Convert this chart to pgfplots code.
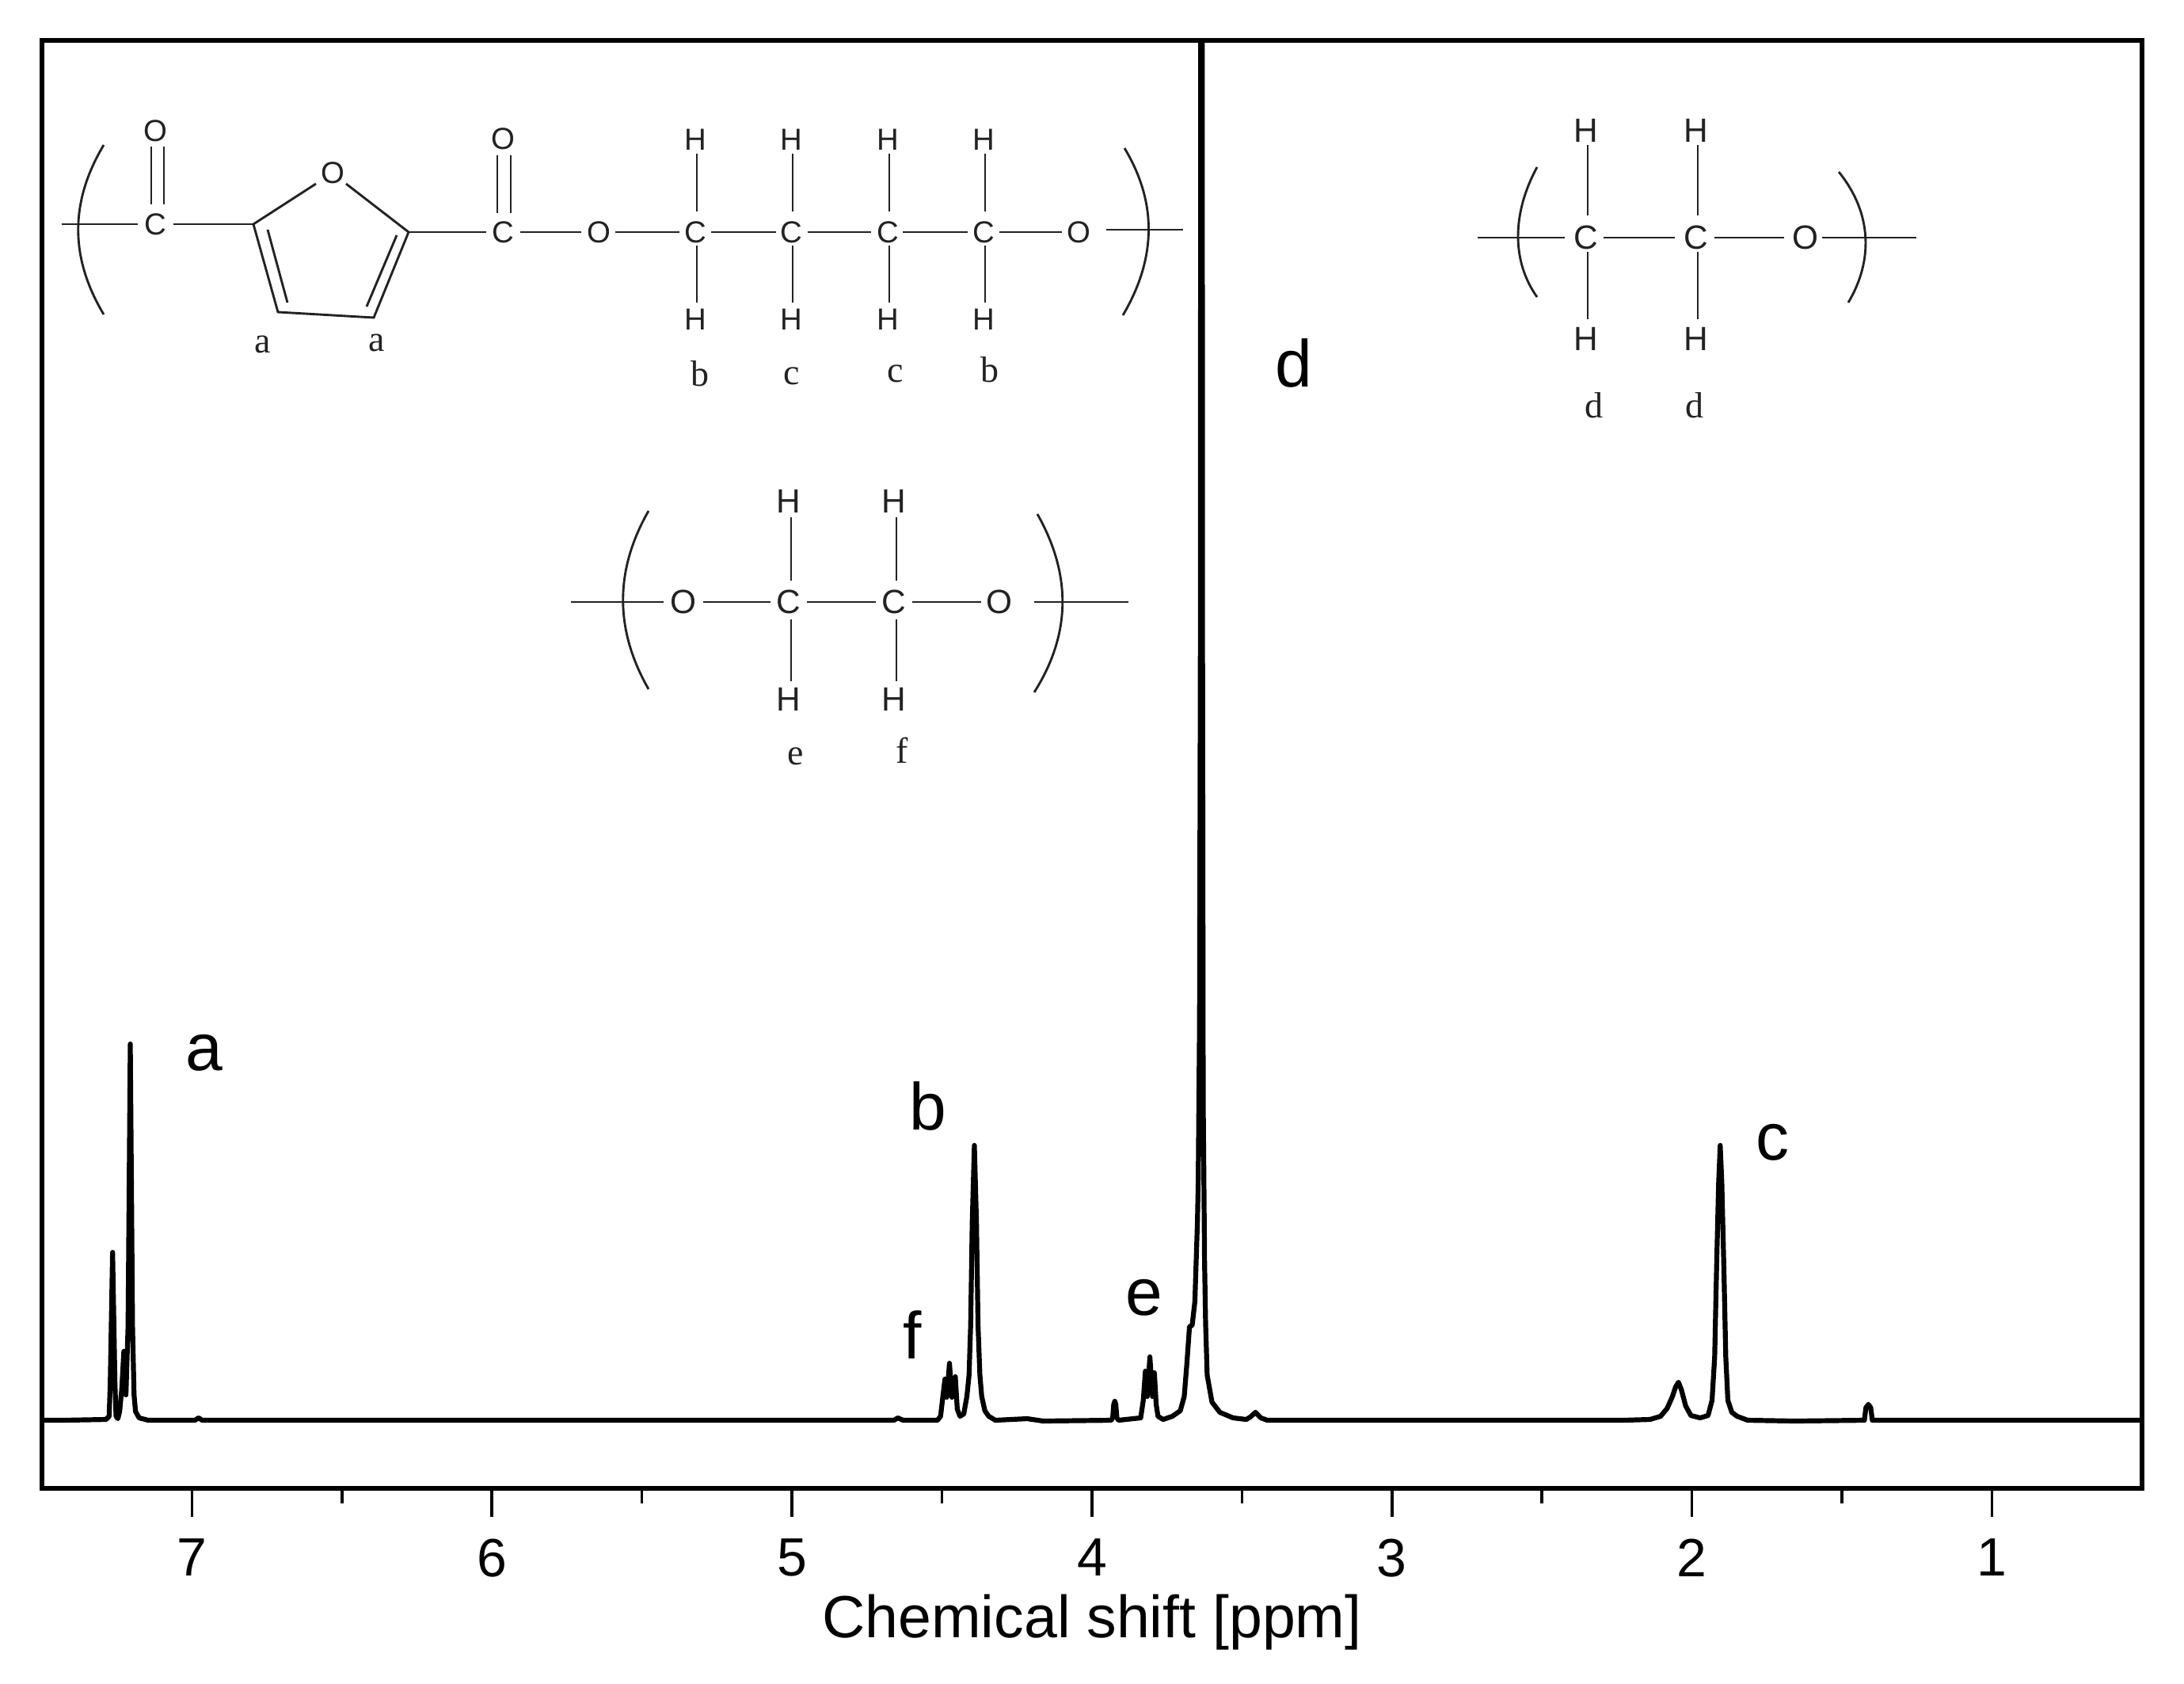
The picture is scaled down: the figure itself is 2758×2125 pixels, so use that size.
\documentclass[border=0pt]{standalone}
\usepackage{fontspec}
\setmainfont{Liberation Sans}
\newfontfamily\tm{Liberation Serif}
\usepackage{pgfplots}
\pgfplotsset{compat=1.18}
\newcommand{\fs}[1]{\fontsize{#1}{#1}\selectfont}
\definecolor{ink}{HTML}{222222}
\begin{document}
\begin{tikzpicture}[
  bond/.style={ink, line width=0.72pt},
  atom/.style={inner sep=0pt, text=ink, font=\fs{9.6}},
  atomb/.style={inner sep=0pt, text=ink, font=\fs{10.6}},
  lab/.style={inner sep=0pt, anchor=base, text=ink, font=\tm\fs{11.5}},
  peak/.style={inner sep=0pt, anchor=base, text=black, font=\fs{21}},
]
% one unit of the pixel scope = one pixel of the reference
\begin{scope}[x=0.25pt, y=-0.25pt, shift={(-13.25pt,469.75pt)}]
  \path[use as bounding box] (0,0) rectangle (2758,2125);
\end{scope}
\begin{axis}[
    scale only axis,
    width=663pt, height=457pt,
    xmin=0.5, xmax=7.5, ymin=-86, ymax=1742,
    x dir=reverse,
    xtick={1,2,3,4,5,6,7},
    minor x tick num=1,
    ytick=\empty,
    tick pos=bottom,
    xtick align=outside,
    major tick length=9pt,
    minor tick length=4.75pt,
    tick style={black, line width=0.9pt},
    axis line style={line width=1.35pt},
    xticklabel style={font=\fs{17}, yshift=-3.5pt},
    /pgf/number format/assume math mode=true,
    xlabel={Chemical shift [ppm]},
    xlabel style={font=\fs{18.8}, at={(axis description cs:0.5,0)}, anchor=base, yshift=-47pt},
]
\addplot[black, line width=1.55pt, line join=round] coordinates {
 (7.5,0) (7.427,0) (7.2865,1) (7.276,5) (7.2724,46) (7.2645,212) (7.2566,46) (7.253,5)
 (7.247,2) (7.241,11) (7.234,39) (7.227,87) (7.220,32) (7.213,118) (7.2055,475)
 (7.198,118) (7.193,32) (7.188,11) (7.176,3) (7.146,0) (6.99,0) (6.978,3) (6.966,0)
 (4.66,0) (4.647,3) (4.630,0) (4.515,0) (4.5047,5) (4.497,30) (4.49,52) (4.484,29)
 (4.475,72) (4.467,29) (4.4555,55) (4.449,14) (4.44,5) (4.4273,8) (4.417,30)
 (4.4097,57) (4.4044,120) (4.3991,250) (4.392,347) (4.385,250) (4.3798,120)
 (4.3736,57) (4.3675,30) (4.357,12) (4.344,5) (4.322,0) (4.216,2) (4.163,-1)
 (3.936,0) (3.931,3) (3.9275,20) (3.924,24) (3.9205,20) (3.917,3) (3.9116,0)
 (3.8377,3) (3.829,25) (3.822,62) (3.8157,30) (3.807,80) (3.7981,30) (3.792,60)
 (3.786,20) (3.78,5) (3.7629,1) (3.732,5) (3.7057,12) (3.6925,30) (3.684,70)
 (3.675,118) (3.666,120) (3.657,150) (3.6485,250) (3.6459,300) (3.6415,500)
 (3.6385,1000) (3.6375,1900) (3.6325,1900) (3.6315,1000) (3.6291,400) (3.6247,200) (3.6213,123)
 (3.616,57) (3.6001,23) (3.5737,10) (3.5297,3) (3.4857,1) (3.4725,4) (3.4549,10)
 (3.4373,3) (3.4153,0) (2.228,0) (2.14,1) (2.1048,5) (2.0828,15) (2.0652,30)
 (2.0546,42) (2.045,48) (2.035,38) (2.021,18) (2.0036,6) (1.9728,3) (1.9464,6)
 (1.9332,25) (1.9244,80) (1.9182,190) (1.9112,300) (1.9059,347) (1.9006,300)
 (1.8936,190) (1.8874,80) (1.8804,25) (1.8672,10) (1.8496,5) (1.8144,0) (1.656,-1)
 (1.4254,0) (1.4202,16) (1.4122,20) (1.4043,16) (1.399,0) (1.2,0) (0.5,0)
};
\end{axis}
\begin{scope}[x=0.25pt, y=-0.25pt, shift={(-13.25pt,469.75pt)}]
  % peak letters
  \node[peak] at (258,1351) {a};
  \node[peak] at (1172,1426) {b};
  \node[peak] at (2238,1464) {c};
  \node[peak] at (1634,488) {d};
  \node[peak] at (1445,1660) {e};
  \node[peak] at (1152,1715) {f};
  % PBF unit, upper left
  \draw[bond] (131,183) .. controls (88,255) and (88,325) .. (131,397);
  \draw[bond] (1420,187) .. controls (1461,255) and (1461,325) .. (1418,398);
  \draw[bond] (78,283) -- (174,283);
  \draw[bond] (219,283) -- (320,283);
  \draw[bond] (191,185) -- (191,258);
  \draw[bond] (207,185) -- (207,258);
  \draw[bond] (399,232) -- (320,283) -- (351,394) -- (472,401) -- (516,293) -- (437,232);
  \draw[bond] (338,290) -- (363,382);
  \draw[bond] (501,297) -- (463,387);
  \draw[bond] (516,293) -- (614,293);
  \draw[bond] (628,196) -- (628,269);
  \draw[bond] (645,196) -- (645,269);
  \draw[bond] (657,293) -- (734,293);
  \draw[bond] (777,293) -- (858,293);
  \draw[bond] (898,293) -- (980,293);
  \draw[bond] (1020,293) -- (1100,293);
  \draw[bond] (1140,293) -- (1222,293);
  \draw[bond] (1262,293) -- (1341,293);
  \draw[bond] (1397,290) -- (1494,290);
  \foreach \x in {880,1001,1123,1244} {
    \draw[bond] (\x,194) -- (\x,267);
    \draw[bond] (\x,310) -- (\x,382);
    \node[atom] at (\x-2,176) {H};
    \node[atom] at (\x-2,403) {H};
    \node[atom] at (\x-2,293) {C};
  }
  \node[atom] at (196,283) {C};
  \node[atom] at (196,165) {O};
  \node[atom] at (420,218) {O};
  \node[atom] at (635,293) {C};
  \node[atom] at (635,175) {O};
  \node[atom] at (756,293) {O};
  \node[atom] at (1362,293) {O};
  \node[lab] at (332,445) {a};
  \node[lab] at (476,443) {a};
  \node[lab] at (884,487) {b};
  \node[lab] at (1000,485) {c};
  \node[lab] at (1131,482) {c};
  \node[lab] at (1250,482) {b};
  % PEG end, middle
  \draw[bond] (819,645) .. controls (776,720) and (776,795) .. (819,870);
  \draw[bond] (1310,649) .. controls (1353,725) and (1353,800) .. (1306,874);
  \draw[bond] (721,760) -- (838,760);
  \draw[bond] (888,760) -- (973,760);
  \draw[bond] (1019,760) -- (1106,760);
  \draw[bond] (1152,760) -- (1239,760);
  \draw[bond] (1306,760) -- (1425,760);
  \foreach \x in {999,1132} {
    \draw[bond] (\x,653) -- (\x,733);
    \draw[bond] (\x,782) -- (\x,860);
    \node[atomb] at (\x-3,633) {H};
    \node[atomb] at (\x-3,883) {H};
    \node[atomb] at (\x-3,760) {C};
  }
  \node[atomb] at (863,760) {O};
  \node[atomb] at (1262,760) {O};
  \node[lab] at (1005,965) {e};
  \node[lab] at (1139,963) {f};
  % PEG repeat unit, upper right
  \draw[bond] (1941,211) .. controls (1909,270) and (1909,330) .. (1941,375);
  \draw[bond] (2322,217) .. controls (2365,270) and (2365,330) .. (2334,382);
  \draw[bond] (1866,300) -- (1976,300);
  \draw[bond] (2025,300) -- (2115,300);
  \draw[bond] (2165,300) -- (2253,300);
  \draw[bond] (2301,300) -- (2420,300);
  \foreach \x in {2005,2144} {
    \draw[bond] (\x,183) -- (\x,272);
    \draw[bond] (\x,318) -- (\x,403);
    \node[atomb] at (\x-2,165) {H};
    \node[atomb] at (\x-2,428) {H};
    \node[atomb] at (\x-2,300) {C};
  }
  \node[atomb] at (2280,300) {O};
  \node[lab] at (2013,527) {d};
  \node[lab] at (2140,527) {d};
\end{scope}
\end{tikzpicture}
\end{document}
